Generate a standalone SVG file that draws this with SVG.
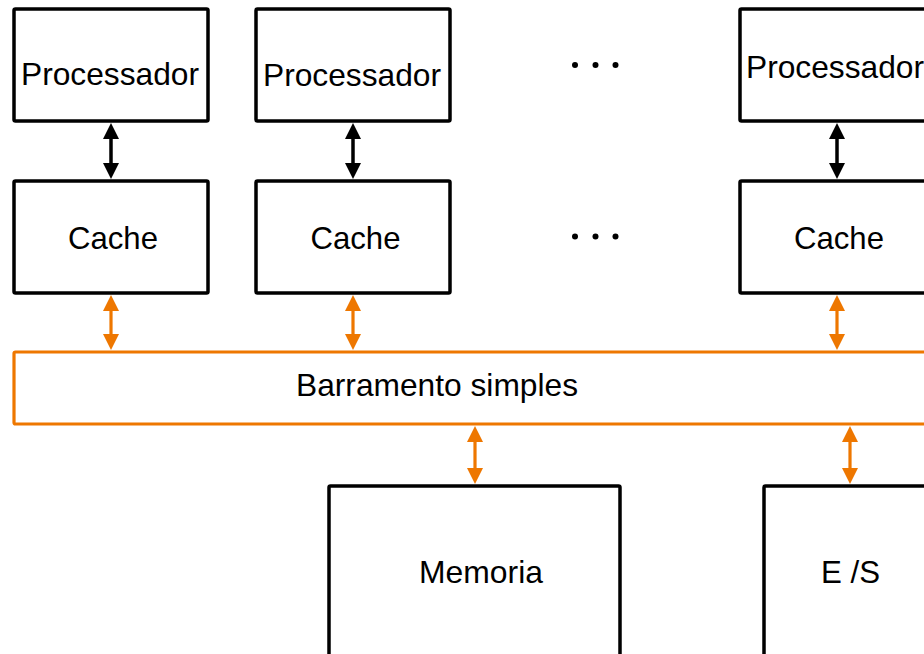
<svg xmlns="http://www.w3.org/2000/svg" width="924" height="654" viewBox="0 0 924 654">
  <defs>
    <marker id="headBlack" markerUnits="userSpaceOnUse" markerWidth="16" markerHeight="16" refX="12" refY="8" orient="auto-start-reverse" viewBox="0 0 16 16">
      <path d="M0,0 L16,8 L0,16 z" fill="#000"/>
    </marker>
    <marker id="headOrange" markerUnits="userSpaceOnUse" markerWidth="16" markerHeight="16" refX="12" refY="8" orient="auto-start-reverse" viewBox="0 0 16 16">
      <path d="M0,0 L16,8 L0,16 z" fill="#EE7700"/>
    </marker>
    <style>
      .box { fill: #fff; stroke: #000; stroke-width: 3.5; }
      .bus { fill: #fff; stroke: #EE7700; stroke-width: 3.2; }
      .lbl { font-family: "Liberation Sans", Arial, sans-serif; font-size: 31.5px; fill: #000; text-anchor: middle; }
      .link-k { stroke: #000; stroke-width: 3.5; fill: none; marker-start: url(#headBlack); marker-end: url(#headBlack); }
      .link-o { stroke: #EE7700; stroke-width: 3.2; fill: none; marker-start: url(#headOrange); marker-end: url(#headOrange); }
      .dot { fill: #000; }
    </style>
  </defs>

  <rect width="924" height="654" fill="#fff"/>

  <!-- processors -->
  <g id="proc1">
    <rect class="box" x="14" y="9" width="194" height="112" rx="1.5"/>
    <text class="lbl" x="110" y="85" textLength="178" lengthAdjust="spacingAndGlyphs">Processador</text>
  </g>
  <g id="proc2">
    <rect class="box" x="256" y="9" width="194" height="112" rx="1.5"/>
    <text class="lbl" x="352" y="86" textLength="178" lengthAdjust="spacingAndGlyphs">Processador</text>
  </g>
  <g id="procN">
    <rect class="box" x="740" y="9" width="220" height="112" rx="1.5"/>
    <text class="lbl" x="835" y="78" textLength="178" lengthAdjust="spacingAndGlyphs">Processador</text>
  </g>

  <!-- caches -->
  <g id="cache1">
    <rect class="box" x="14" y="181" width="194" height="112" rx="1.5"/>
    <text class="lbl" x="113" y="249" textLength="90" lengthAdjust="spacingAndGlyphs">Cache</text>
  </g>
  <g id="cache2">
    <rect class="box" x="256" y="181" width="194" height="112" rx="1.5"/>
    <text class="lbl" x="355.5" y="249" textLength="90" lengthAdjust="spacingAndGlyphs">Cache</text>
  </g>
  <g id="cacheN">
    <rect class="box" x="740" y="181" width="220" height="112" rx="1.5"/>
    <text class="lbl" x="839" y="249" textLength="90" lengthAdjust="spacingAndGlyphs">Cache</text>
  </g>

  <!-- ellipsis between columns -->
  <g id="ellipsis">
    <circle class="dot" cx="575" cy="65" r="3"/>
    <circle class="dot" cx="595.5" cy="65" r="3"/>
    <circle class="dot" cx="615.5" cy="65" r="3"/>
    <circle class="dot" cx="575" cy="236.5" r="3"/>
    <circle class="dot" cx="595.5" cy="236.5" r="3"/>
    <circle class="dot" cx="615.5" cy="236.5" r="3"/>
  </g>

  <!-- shared bus -->
  <g id="bus">
    <rect class="bus" x="14" y="352" width="940" height="72" rx="1.5"/>
    <text class="lbl" x="437" y="396" textLength="282" lengthAdjust="spacingAndGlyphs">Barramento simples</text>
  </g>

  <!-- memory and I/O -->
  <g id="memoria">
    <rect class="box" x="329" y="486" width="291" height="190" rx="1.5"/>
    <text class="lbl" x="481" y="583" textLength="124" lengthAdjust="spacingAndGlyphs">Memoria</text>
  </g>
  <g id="es">
    <rect class="box" x="764" y="486" width="200" height="190" rx="1.5"/>
    <text class="lbl" x="850.5" y="583" textLength="59" lengthAdjust="spacingAndGlyphs">E /S</text>
  </g>

  <!-- connectors -->
  <g id="connectors">
    <line class="link-k" x1="111" y1="127" x2="111" y2="175"/>
    <line class="link-k" x1="353" y1="127" x2="353" y2="175"/>
    <line class="link-k" x1="837" y1="127" x2="837" y2="175"/>
    <line class="link-o" x1="111" y1="299" x2="111" y2="346"/>
    <line class="link-o" x1="353" y1="299" x2="353" y2="346"/>
    <line class="link-o" x1="837" y1="299" x2="837" y2="346"/>
    <line class="link-o" x1="475" y1="430" x2="475" y2="480"/>
    <line class="link-o" x1="850" y1="430" x2="850" y2="480"/>
  </g>
</svg>
